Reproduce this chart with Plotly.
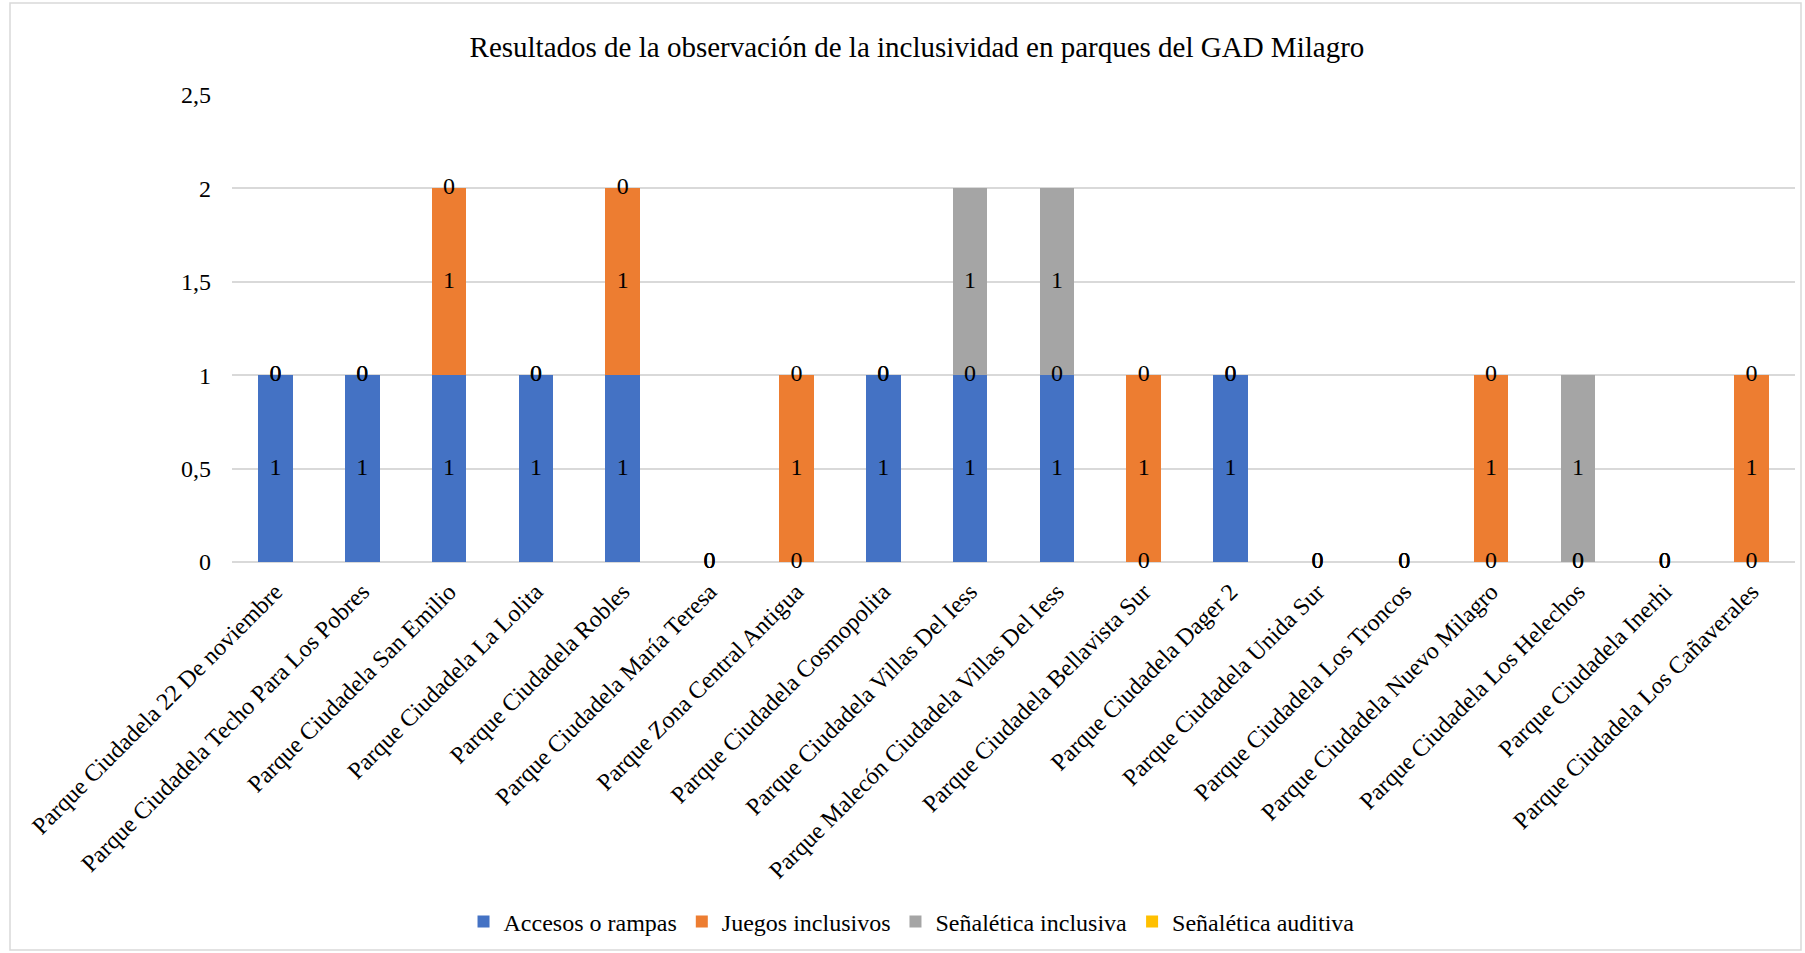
import plotly.graph_objects as go

categories = [
    "Parque Ciudadela 22 De noviembre",
    "Parque Ciudadela Techo Para Los Pobres",
    "Parque Ciudadela San Emilio",
    "Parque Ciudadela La Lolita",
    "Parque Ciudadela Robles",
    "Parque Ciudadela María Teresa",
    "Parque Zona Central Antigua",
    "Parque Ciudadela Cosmopolita",
    "Parque Ciudadela Villas Del Iess",
    "Parque Malecón Ciudadela Villas Del Iess",
    "Parque Ciudadela Bellavista Sur",
    "Parque Ciudadela Dager 2",
    "Parque Ciudadela Unida Sur",
    "Parque Ciudadela Los Troncos",
    "Parque Ciudadela Nuevo Milagro",
    "Parque Ciudadela Los Helechos",
    "Parque Ciudadela Inerhi",
    "Parque Ciudadela Los Cañaverales",
]

accesos = [1, 1, 1, 1, 1, 0, 0, 1, 1, 1, 0, 1, 0, 0, 0, 0, 0, 0]
juegos = [0, 0, 1, 0, 1, 0, 1, 0, 0, 0, 1, 0, 0, 0, 1, 0, 0, 1]
senal_inclusiva = [0, 0, 0, 0, 0, 0, 0, 0, 1, 1, 0, 0, 0, 0, 0, 1, 0, 0]
senal_auditiva = [None] * 18

series = [
    ("Accesos o rampas", accesos, "#4472C4"),
    ("Juegos inclusivos", juegos, "#ED7D31"),
    ("Señalética inclusiva", senal_inclusiva, "#A5A5A5"),
    ("Señalética auditiva", senal_auditiva, "#FFC000"),
]

FONT = "Liberation Serif"
W, H = 1805, 953
L, R, T, B = 232, 10, 95, 391
FS = 24

fig = go.Figure()
for name, vals, col in series:
    fig.add_trace(go.Bar(
        x=categories, y=vals,
        name=name, marker=dict(color=col, line=dict(width=0)),
    ))

# data labels
cum = [0.0] * len(categories)
for name, vals, col in series:
    xs, ys, ts = [], [], []
    for i, v in enumerate(vals):
        if v is None:
            continue
        xs.append(categories[i])
        ys.append(cum[i] + v / 2)
        ts.append(str(v))
        cum[i] += v
    fig.add_trace(go.Scatter(
        x=xs, y=ys, text=ts, mode="text", showlegend=False, hoverinfo="skip",
        textfont=dict(family=FONT, size=FS, color="#000000"),
        textposition="middle center", cliponaxis=False,
    ))

pw = W - L - R
ph = H - T - B
fig.add_shape(type="rect", xref="paper", yref="paper",
              x0=(10 - L) / pw, x1=(W - 4 - L) / pw,
              y0=-(H - 3 - T - ph) / ph, y1=1 + (T - 3) / ph,
              line=dict(color="#D9D9D9", width=1.5), layer="below")

fig.update_layout(
    width=W, height=H,
    barmode="stack", bargap=0.6,
    separators=",.",
    margin=dict(l=L, r=R, t=T, b=B, autoexpand=False),
    paper_bgcolor="white", plot_bgcolor="white",
    font=dict(family=FONT, size=FS, color="#000000"),
    title=dict(text="Resultados de la observación de la inclusividad en parques del GAD Milagro",
               x=0.508, xref="container", xanchor="center",
               y=1 - 47 / H, yref="container", yanchor="middle",
               font=dict(family=FONT, size=29, color="#000000")),
    legend=dict(orientation="h", xref="container", x=0.505, xanchor="center",
                yref="container", y=1 - 922 / H, yanchor="middle",
                font=dict(family=FONT, size=FS), itemwidth=30, traceorder="normal"),
    xaxis=dict(tickangle=-45, showgrid=False, showline=False, ticks="", automargin=False,
               range=[-0.5, len(categories) - 0.5],
               tickfont=dict(family=FONT, size=FS), ticklabelstandoff=10),
    yaxis=dict(range=[0, 2.5], dtick=0.5, showgrid=True, gridcolor="#D9D9D9", gridwidth=1.5,
               zeroline=True, zerolinecolor="#D9D9D9", zerolinewidth=1.5, automargin=False,
               showline=False, ticks="", tickfont=dict(family=FONT, size=FS),
               ticklabelstandoff=20),
)

fig.write_html("out.html", config={"displayModeBar": False},
               post_script="document.body.style.margin='0';document.body.style.overflow='hidden';")
